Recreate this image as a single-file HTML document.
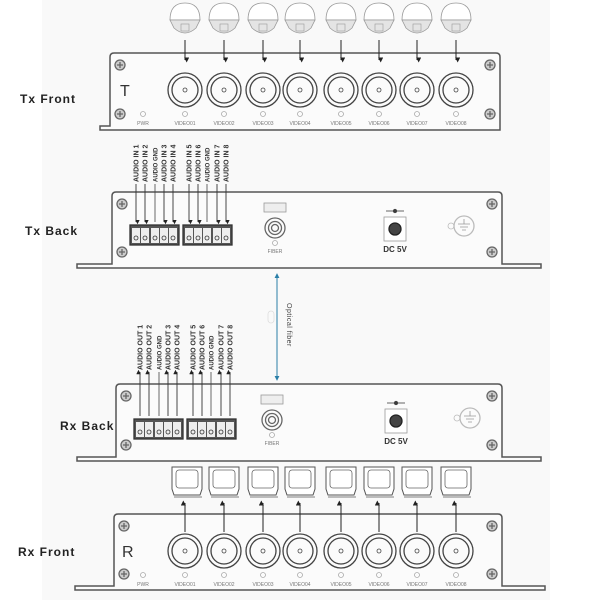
<!DOCTYPE html>
<html><head><meta charset="utf-8"><style>
html,body{margin:0;padding:0;background:#fff}
svg{display:block}
text{font-family:"Liberation Sans",sans-serif}
</style></head><body>
<svg id="s" width="600" height="600" viewBox="0 0 600 600" xmlns="http://www.w3.org/2000/svg">
<rect x="42" y="0" width="508" height="600" fill="#f9f9f9"/>
<defs>
<marker id="ad" viewBox="0 0 6 6" refX="3" refY="5" markerWidth="5" markerHeight="5" orient="auto"><path d="M0,0 L6,3 L0,6z" fill="#222"/></marker>
<marker id="ab" viewBox="0 0 6 6" refX="5" refY="3" markerWidth="5" markerHeight="5" orient="auto"><path d="M0,0 L6,3 L0,6z" fill="#2a7fa8"/></marker>
</defs>
<g id="g" fill="none" stroke="#444" stroke-width="1.3"></g>
</svg>
<script>
var g=document.getElementById('g'),h='';
function panel(L,T,R,B,FL,FR){
 h+='<path d="M'+FL+','+B+' L'+FL+','+(B-4)+' L'+L+','+(B-4)+' L'+L+','+(T+4)+' Q'+L+','+T+' '+(L+4)+','+T+' L'+(R-4)+','+T+' Q'+R+','+T+' '+R+','+(T+4)+' L'+R+','+(B-4)+' L'+FR+','+(B-4)+' L'+FR+','+B+' Z" fill="#fbfbfb" stroke="#555" stroke-width="1.5"/>';
 [[L+10,T+12],[L+10,B-16],[R-10,T+12],[R-10,B-16]].forEach(function(p){
  h+='<circle cx="'+p[0]+'" cy="'+p[1]+'" r="5" fill="#ccc" stroke="#666"/><path d="M'+(p[0]-3)+','+p[1]+'h6M'+p[0]+','+(p[1]-3)+'v6" stroke="#666"/>';});
}
var xs=[185,224,263,300,341,379,417,456];
function front(T,letter,isTx){
 h+='<text x="'+(isTx?120:122)+'" y="'+(T+43)+'" font-family="Liberation Serif" font-size="16" fill="#333" stroke="none">'+letter+'</text>';
 h+='<circle cx="143" cy="'+(T+61)+'" r="2.5" stroke="#aaa" stroke-width="0.8"/><text x="143" y="'+(T+72)+'" font-size="5" fill="#777" stroke="none" text-anchor="middle">PWR</text>';
 xs.forEach(function(x,i){var cy=T+37;
  h+='<circle cx="'+x+'" cy="'+cy+'" r="17" stroke="#444"/><circle cx="'+x+'" cy="'+cy+'" r="13"/><circle cx="'+x+'" cy="'+cy+'" r="2" stroke-width="0.8"/>';
  h+='<circle cx="'+x+'" cy="'+(T+61)+'" r="2.5" stroke="#aaa" stroke-width="0.8"/><text x="'+x+'" y="'+(T+72)+'" font-size="5" fill="#777" stroke="none" text-anchor="middle">VIDEO0'+(i+1)+'</text>';});
}
function back(T,L,xin,out){
 var ax=[136,145,155,164,173,189,198,207,217,226].map(function(x){return x+(out?4:0);});
 var names=out?['AUDIO OUT 1','AUDIO OUT 2','AUDIO GND','AUDIO OUT 3','AUDIO OUT 4','AUDIO OUT 5','AUDIO OUT 6','AUDIO GND','AUDIO OUT 7','AUDIO OUT 8']:['AUDIO IN 1','AUDIO IN 2','AUDIO GND','AUDIO IN 3','AUDIO IN 4','AUDIO IN 5','AUDIO IN 6','AUDIO GND','AUDIO IN 7','AUDIO IN 8'];
 var tb=out?T+35:T+33;
 var top=out?T-12:T-8, ty=out?T-14:T-10;
 h+='<rect x="'+(ax[0]-6)+'" y="'+tb+'" width="49" height="20" fill="#555" stroke="#333"/><rect x="'+(ax[5]-6)+'" y="'+tb+'" width="49" height="20" fill="#555" stroke="#333"/>';
 ax.forEach(function(x,i){
  h+='<rect x="'+(x-4)+'" y="'+(tb+3)+'" width="8" height="15" fill="#eee" stroke="none"/><circle cx="'+x+'" cy="'+(tb+13)+'" r="2" stroke="#333" stroke-width="0.8"/>';
  var gnd=(i==2||i==7);
  var y1=out?tb-3:top, y2=out?top:tb-3;
  if(gnd) h+='<line x1="'+x+'" y1="'+top+'" x2="'+x+'" y2="'+(tb-3)+'" stroke="#444" stroke-width="0.8"/>';
  else h+='<line x1="'+x+'" y1="'+y1+'" x2="'+x+'" y2="'+y2+'" stroke="#333" stroke-width="0.9" marker-end="url(#ad)"/>';
  h+='<text transform="translate('+(x+2.5)+','+ty+') rotate(-90)" font-size="'+(gnd?6:7)+'" font-weight="bold" fill="#333" stroke="none">'+names[i]+'</text>';});
 var fx=out?272:275,fy=T+36;
 h+='<rect x="'+(fx-11)+'" y="'+(T+11)+'" width="22" height="9" fill="#eee" stroke="#999" stroke-width="0.8"/>';
 h+='<circle cx="'+fx+'" cy="'+fy+'" r="10" stroke="#666"/><circle cx="'+fx+'" cy="'+fy+'" r="6.5" stroke="#666"/><circle cx="'+fx+'" cy="'+fy+'" r="3.5" stroke="#666"/>';
 h+='<circle cx="'+fx+'" cy="'+(fy+15)+'" r="2.5" stroke="#aaa" stroke-width="0.8"/><text x="'+fx+'" y="'+(fy+25)+'" font-size="5" fill="#777" stroke="none" text-anchor="middle">FIBER</text>';
 var dx=out?396:395;
 h+='<path d="M'+(dx-9)+','+(T+19)+'h18" stroke="#333" stroke-width="0.8"/><circle cx="'+dx+'" cy="'+(T+19)+'" r="1.5" fill="#333"/>';
 h+='<rect x="'+(dx-11)+'" y="'+(T+25)+'" width="22" height="24" fill="#fff" stroke="#999" stroke-width="0.8"/><circle cx="'+dx+'" cy="'+(T+37)+'" r="6" fill="#444" stroke="#222"/>';
 h+='<text x="'+dx+'" y="'+(T+60)+'" font-size="8" font-weight="bold" fill="#333" stroke="none" text-anchor="middle">DC 5V</text>';
 var gx=out?470:464,gy=T+34;
 h+='<circle cx="'+(gx-13)+'" cy="'+gy+'" r="3" stroke="#bbb" stroke-width="0.8"/><circle cx="'+gx+'" cy="'+gy+'" r="10" stroke="#bbb"/><path d="M'+gx+','+(gy-7)+'v5M'+(gx-6)+','+(gy-2)+'h12M'+(gx-4)+','+(gy+1)+'h8M'+(gx-2)+','+(gy+4)+'h4" stroke="#999" stroke-width="0.8"/>';
}
panel(110,53,500,130,100,500);front(53,'T',true);
xs.forEach(function(x){
 h+='<path d="M'+(x-15)+',20 Q'+(x-15)+',3 '+x+',3 Q'+(x+15)+',3 '+(x+15)+',20 Z" fill="#fff" stroke="#999" stroke-width="0.8"/>';
 h+='<path d="M'+(x-15)+',20 L'+(x-11)+',28 Q'+x+',38 '+(x+11)+',28 L'+(x+15)+',20Z" fill="#e4e4e4" stroke="#999" stroke-width="0.8"/>';
 h+='<rect x="'+(x-4)+'" y="24" width="8" height="7" stroke="#999" stroke-width="0.6"/>';
 h+='<line x1="'+x+'" y1="40" x2="'+x+'" y2="60" stroke="#222" stroke-width="1" marker-end="url(#ad)"/>';
});
h+='<text x="20" y="103" font-size="12" font-weight="bold" fill="#222" stroke="none" letter-spacing="1">Tx Front</text>';
panel(112,192,502,268,77,541);back(192,112,0,false);
h+='<text x="25" y="235" font-size="12" font-weight="bold" fill="#222" stroke="none" letter-spacing="1">Tx Back</text>';
h+='<line x1="277" y1="378" x2="277" y2="274" stroke="#2a7fa8" stroke-width="1" marker-end="url(#ab)"/><line x1="277" y1="274" x2="277" y2="380" stroke="#2a7fa8" stroke-width="1" marker-end="url(#ab)"/>';
h+='<rect x="268" y="311" width="6" height="12" rx="3" stroke="#ddd" stroke-width="0.8"/>';
h+='<text transform="translate(287,303) rotate(90)" font-size="7" fill="#444" stroke="none" letter-spacing="0.5">Optical fiber</text>';
panel(116,384,502,461,77,541);back(384,116,0,true);
h+='<text x="60" y="430" font-size="12" font-weight="bold" fill="#222" stroke="none" letter-spacing="1">Rx Back</text>';
panel(114,514,502,590,75,545);front(514,'R',false);
xs.forEach(function(x,i){var mx=x+(i==0?2:0);
 h+='<path d="M'+(mx-15)+',467 h30 v22 l-2,6 h-26 l-2,-6 z" fill="#fff" stroke="#555" stroke-width="1"/><rect x="'+(mx-11)+'" y="470" width="22" height="18" rx="3" stroke="#666" stroke-width="0.8"/>';
 h+='<line x1="'+(mx-13)+'" y1="497" x2="'+(mx+15)+'" y2="497" stroke="#555" stroke-width="0.8"/>';
 h+='<line x1="'+x+'" y1="532" x2="'+x+'" y2="503" stroke="#222" stroke-width="1" marker-end="url(#ad)"/>';
});
h+='<text x="18" y="556" font-size="12" font-weight="bold" fill="#222" stroke="none" letter-spacing="1">Rx Front</text>';
g.innerHTML=h;
</script>
</body></html>
